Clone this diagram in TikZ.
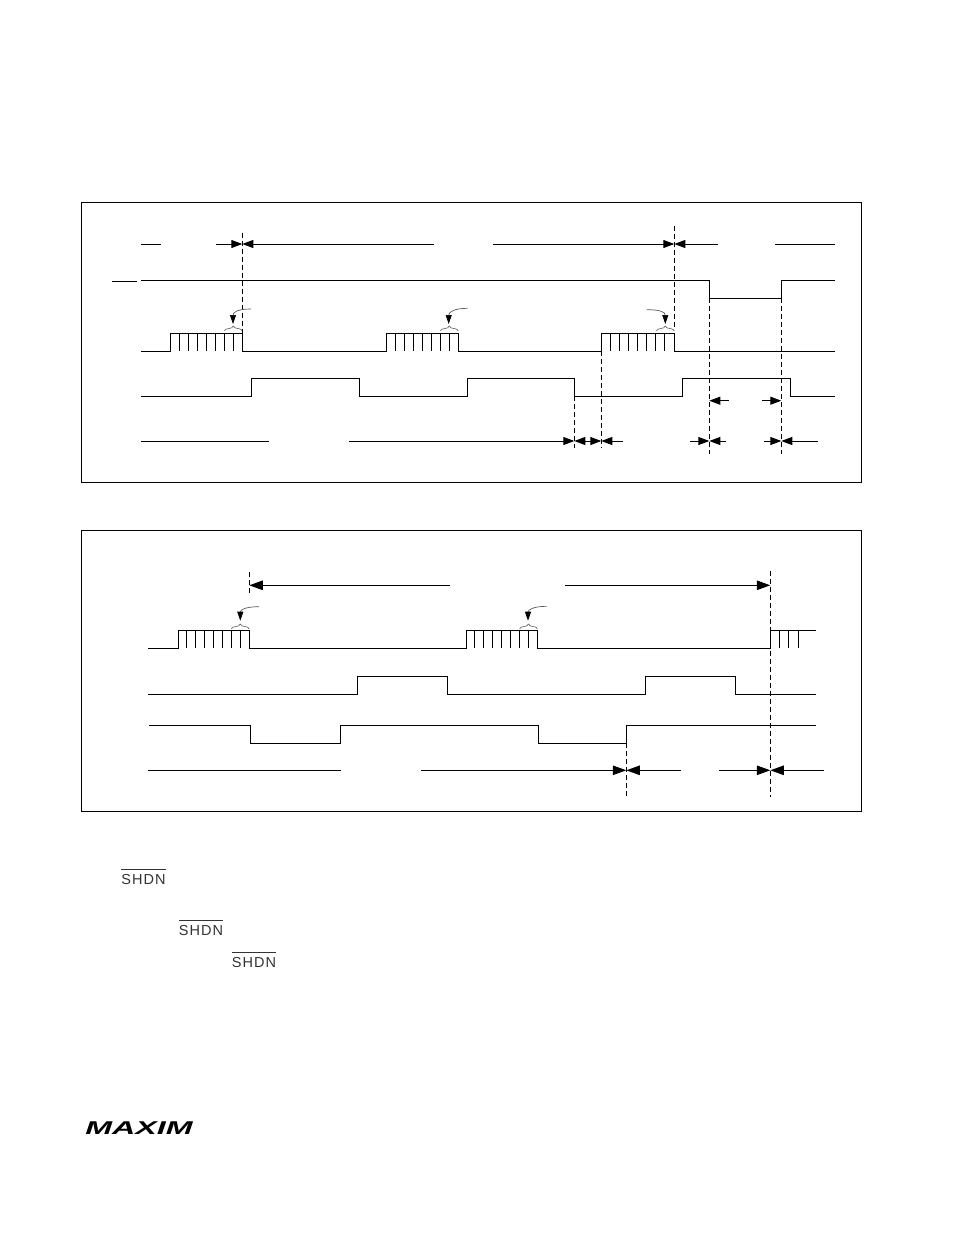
\documentclass[tikz,border=0pt]{standalone}
\usepackage{fontspec}
\usepackage{tikz}
\usetikzlibrary{arrows.meta,decorations.pathreplacing}
\newfontfamily\shdnfont[LetterSpace=7]{Liberation Sans}
\newfontfamily\logofont{Liberation Sans}
\newcommand{\shdnbar}{\textcolor{black!80}{$\overline{\hbox{\fontsize{14.5}{15}\shdnfont\rule{0pt}{13.5pt}SHDN}}$}}
\tikzset{
    frame/.style={line width=1pt},
    signal/.style={line width=1pt},
    guide/.style={line width=1pt, dash pattern=on 5pt off 3pt},
    dim/.style={line width=1pt, -{Triangle[length=11pt,width=8pt]}},
    dimtwo/.style={line width=1pt, {Triangle[length=11pt,width=8pt]}-{Triangle[length=11pt,width=8pt]}},
    dimlong/.style={line width=1pt, -{Triangle[length=13.5pt,width=9.5pt]}},
    note/.style={line width=0.7pt, black!65, -{Triangle[length=9pt,width=6pt,black]}},
    bracket/.style={line width=0.6pt, black!65, decorate, decoration={brace,amplitude=5pt}},
}

\begin{document}
\begin{tikzpicture}[x=1pt,y=-1pt]
    \useasboundingbox (0,0) rectangle (954,1235);

    % upper panel
    \draw[frame] (81.5,202.5) rectangle (861,482.5);

    \draw[signal] (141,244) -- (161,244);
    \draw[dim] (216,244) -- (242.3,244);
    \draw[dim] (434,244) -- (242.3,244);
    \draw[dim] (493,244) -- (674.3,244);
    \draw[dim] (717.7,244) -- (674.3,244);
    \draw[signal] (775,244) -- (835,244);

    \draw[signal] (112,281) -- (137,281);
    \draw[signal] (141,280.3) -- (709.3,280.3) -- (709.3,298.3) -- (781.3,298.3) -- (781.3,280.3) -- (835,280.3);

    \draw[signal] (141,351.3) -- (170.3,351.3) -- (170.3,333.3) -- (242.3,333.3) -- (242.3,351.3)
        -- (386.3,351.3) -- (386.3,333.3) -- (458.3,333.3) -- (458.3,351.3)
        -- (601.3,351.3) -- (601.3,333.3) -- (674.3,333.3) -- (674.3,351.3) -- (835,351.3);
    \foreach \x in {170.3,386.3,601.3}
        \foreach \k in {1,...,7}
            \draw[signal] ({\x+9*\k},333.3) -- ({\x+9*\k},351.3);

    \draw[signal] (141,396.3) -- (251.3,396.3) -- (251.3,378.3) -- (359.3,378.3) -- (359.3,396.3)
        -- (467.7,396.3) -- (467.7,378.3) -- (574.3,378.3) -- (574.3,396.3)
        -- (682.3,396.3) -- (682.3,378.3) -- (790.3,378.3) -- (790.3,396.3) -- (835,396.3);

    \draw[signal] (141,441) -- (269,441);
    \draw[dim] (349,441) -- (574.3,441);
    \draw[dimtwo] (574.3,441) -- (601.3,441);
    \draw[dim] (622.7,441) -- (601.3,441);
    \draw[dim] (690,441) -- (709.3,441);
    \draw[dim] (726,441) -- (709.3,441);
    \draw[dim] (764,441) -- (781.3,441);
    \draw[dim] (817.7,441) -- (781.3,441);
    \draw[dim] (728.7,400.7) -- (709.3,400.7);
    \draw[dim] (762,400.7) -- (781.3,400.7);

    \draw[guide] (242.3,232.7) -- (242.3,333);
    \draw[guide] (674.3,226) -- (674.3,330);
    \draw[guide] (709.3,298.3) -- (709.3,454);
    \draw[guide] (781.3,298.3) -- (781.3,454);
    \draw[guide] (574.3,396.3) -- (574.3,448);
    \draw[guide] (601.3,351.3) -- (601.3,448);

    \draw[bracket] (224.3,331) -- (242.3,331);
    \draw[bracket] (440.3,331) -- (458.3,331);
    \draw[bracket] (656.3,331) -- (674.3,331);
    \draw[note] (251,309) .. controls (238,309) and (233,312) .. (233,324);
    \draw[note] (467.7,308.3) .. controls (454,308.3) and (448.7,312) .. (448.7,324);
    \draw[note] (646.7,309.7) .. controls (660,309.7) and (665.3,312) .. (665.3,324);

    % lower panel
    \draw[frame] (81.5,530.5) rectangle (861,811);

    \draw[dimlong] (450,585.3) -- (249.3,585.3);
    \draw[dimlong] (565,585.3) -- (770.3,585.3);

    \draw[signal] (148,648.3) -- (178.3,648.3) -- (178.3,630) -- (249.3,630) -- (249.3,648.3)
        -- (466.7,648.3) -- (466.7,630) -- (537.7,630) -- (537.7,648.3)
        -- (770.3,648.3) -- (770.3,630) -- (816,630);
    \foreach \x in {177.3,465.7}
        \foreach \k in {1,...,7}
            \draw[signal] ({\x+9*\k},630) -- ({\x+9*\k},648.3);
    \foreach \x in {779.3,788.3,798}
        \draw[signal] (\x,630) -- (\x,648.3);

    \draw[signal] (148,694.3) -- (357.3,694.3) -- (357.3,676.3) -- (447.7,676.3) -- (447.7,694.3)
        -- (645.7,694.3) -- (645.7,676.3) -- (735.7,676.3) -- (735.7,694.3) -- (816,694.3);
    \draw[signal] (149,725.3) -- (250.3,725.3) -- (250.3,743.3) -- (340.3,743.3) -- (340.3,725.3)
        -- (538.3,725.3) -- (538.3,743.3) -- (626.3,743.3) -- (626.3,725.3) -- (816,725.3);

    \draw[signal] (148,770.3) -- (340.7,770.3);
    \draw[dimlong] (421.3,770.3) -- (626.3,770.3);
    \draw[dimlong] (681,770.3) -- (626.3,770.3);
    \draw[dimlong] (719,770.3) -- (770.3,770.3);
    \draw[dimlong] (823.7,770.3) -- (770.3,770.3);

    \draw[guide] (249.3,572) -- (249.3,595.7);
    \draw[guide] (770.3,570.7) -- (770.3,796.7);
    \draw[guide] (626.3,743.3) -- (626.3,796);

    \draw[bracket] (231.3,629) -- (249.3,629);
    \draw[bracket] (519.5,629) -- (537.5,629);
    \draw[note] (259,606.7) .. controls (245,606.7) and (240.3,610) .. (240.3,620.7);
    \draw[note] (546.7,606.3) .. controls (533,606.3) and (528,610) .. (528,620.7);

    % text lines
    \node[anchor=base, inner sep=0pt] (shdnone) at (143.5,884) {\shdnbar};
    \node[anchor=base, inner sep=0pt] (shdntwo) at (201,935) {\shdnbar};
    \node[anchor=base, inner sep=0pt] (shdnthree) at (254,967.5) {\shdnbar};

    \node[anchor=west, inner sep=0pt, xscale=1.74] (logo) at (85,1128.5)
        {\fontsize{18.5}{19}\logofont\bfseries\itshape MAXIM};
\end{tikzpicture}
\end{document}
